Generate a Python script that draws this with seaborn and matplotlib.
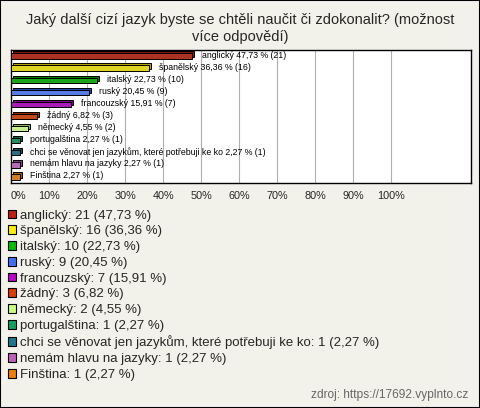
import matplotlib
matplotlib.use("Agg")
import matplotlib.pyplot as plt
import matplotlib.transforms as mtransforms
from matplotlib.patches import Rectangle, Patch
import seaborn as sns
import pandas as pd

# --- data ---
jazyky = ['anglický', 'španělský', 'italský', 'ruský', 'francouzský', 'žádný',
          'německý', 'portugalština',
          'chci se věnovat jen jazykům, které potřebuji ke ko',
          'nemám hlavu na jazyky', 'Finština']
pocty = [21, 16, 10, 9, 7, 3, 2, 1, 1, 1, 1]
procenta = [47.73, 36.36, 22.73, 20.45, 15.91, 6.82, 4.55, 2.27, 2.27, 2.27, 2.27]
barvy = ['#c4200c', '#fff000', '#00bd00', '#4070ff', '#c000d0', '#e03c00',
         '#caff80', '#10a060', '#1a7890', '#c060c0', '#f08000']
tmave = ['#7a1408', '#b0a400', '#008000', '#2848b0', '#800090', '#982800',
         '#8cb058', '#0a6a40', '#10505f', '#884088', '#a85800']
ticky = [0, 10, 20, 30, 40, 50, 60, 70, 80, 90, 100]

df = pd.DataFrame({'jazyk': jazyky, 'pocet': pocty, 'procento': procenta})

sns.set_style('white')
plt.rcParams['font.family'] = ['Liberation Sans', 'DejaVu Sans']

W, H = 480, 408
fig = plt.figure(figsize=(W / 100, H / 100), dpi=100)
fig.patch.set_facecolor('#f3f2ea')
fig.patches.append(Rectangle((0, 0), 1, 1, transform=fig.transFigure,
                             fill=False, edgecolor='black', linewidth=1.5))

ax = fig.add_axes([11 / W, 1 - 183 / H, 460 / W, 133 / H])
ax.set_facecolor('white')

sns.barplot(data=df, x='procento', y='jazyk', hue='jazyk', palette=barvy,
            legend=False, width=0.45, edgecolor='black', linewidth=0.7,
            ax=ax, zorder=3)

# 3D hloubka sloupcu
posun = mtransforms.ScaledTranslation(2 / 100, 2 / 100, fig.dpi_scale_trans)
for p, c in zip(ax.patches[:len(jazyky)], tmave):
    r = Rectangle(p.get_xy(), p.get_width(), p.get_height(),
                  transform=ax.transData + posun, facecolor=c,
                  edgecolor='black', linewidth=0.7, zorder=2)
    ax.add_patch(r)

for i, (j, pr, n) in enumerate(zip(jazyky, procenta, pocty)):
    txt = f"{j} {pr:.2f} % ({n})".replace('.', ',')
    ax.annotate(txt, (pr, i), xytext=(10, 1), textcoords='offset pixels',
                va='center', ha='left', fontsize=6.3, color='black', zorder=4)

ax.set_xlim(0, 121)
ax.set_ylim(10.5, -0.5)
ax.set_xticks(ticky)
ax.set_xticklabels([f"{t}%" for t in ticky], fontsize=7.8)
ax.get_xticklabels()[0].set_ha('left')
ax.tick_params(axis='x', length=0, pad=6)
ax.set_yticks([])
ax.set_xlabel('')
ax.set_ylabel('')
ax.grid(axis='x', color='#b0b0b0', linewidth=0.8, zorder=0)
ax.set_axisbelow(True)
for s in ax.spines.values():
    s.set_color('black')
    s.set_linewidth(1)

fig.text(0.5, 1 - 20 / H,
         'Jaký další cizí jazyk byste se chtěli naučit či zdokonalit? (možnost',
         ha='center', va='center', fontsize=10.5)
fig.text(0.5, 1 - 37 / H, 'více odpovědí)', ha='center', va='center', fontsize=10.5)

handles = [Patch(facecolor=c, edgecolor='black', linewidth=0.8) for c in barvy]
labels = [f"{j}: {n} ({pr:.2f} %)".replace('.', ',')
          for j, n, pr in zip(jazyky, pocty, procenta)]
fig.legend(handles, labels, loc='upper left', bbox_to_anchor=(5 / W, 1 - 207 / H),
           frameon=False, fontsize=9.5, handlelength=0.65, handleheight=0.65,
           handletextpad=0.25, labelspacing=0.28, borderaxespad=0, borderpad=0.2)

fig.text(1 - 12 / W, 1 - 395 / H, 'zdroj: https://17692.vyplnto.cz',
         ha='right', va='center', fontsize=8.6, color='#666666')

fig.savefig('out.png', dpi=100, facecolor=fig.get_facecolor())
